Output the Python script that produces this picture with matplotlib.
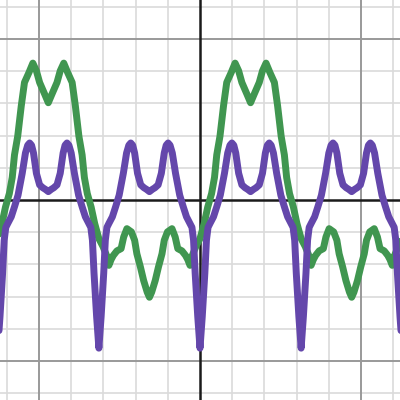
import numpy as np
import matplotlib
matplotlib.use("Agg")
import matplotlib.pyplot as plt

# green curve (grid unit = 1)
green_x = [-6.28, -6.15, -6.04, -5.92, -5.83, -5.76, -5.66, -5.55, -5.45, -5.31,
           -5.19, -5.08, -4.98, -4.82, -4.71, -4.60, -4.44, -4.34, -4.23, -4.11,
           -3.97, -3.87, -3.76, -3.66, -3.59, -3.50, -3.38, -3.27, -3.14, -3.01,
           -2.89, -2.83, -2.76, -2.69, -2.58, -2.45, -2.37, -2.27, -2.13, -2.03,
           -1.96, -1.85, -1.75, -1.64, -1.57, -1.50, -1.39, -1.29, -1.18, -1.11,
           -1.01, -0.87, -0.77, -0.69, -0.56, -0.45, -0.38, -0.31, -0.25, -0.13,
           0.00, 0.13, 0.24, 0.36, 0.45, 0.52, 0.62, 0.73, 0.83, 0.97,
           1.09, 1.20, 1.30, 1.46, 1.57, 1.68, 1.84, 1.94, 2.05, 2.17,
           2.31, 2.41, 2.52, 2.62, 2.69, 2.78, 2.90, 3.01, 3.14, 3.27,
           3.39, 3.45, 3.52, 3.59, 3.70, 3.83, 3.91, 4.01, 4.15, 4.25,
           4.32, 4.43, 4.53, 4.64, 4.71, 4.78, 4.89, 4.99, 5.10, 5.17,
           5.27, 5.41, 5.51, 5.59, 5.72, 5.83, 5.90, 5.97, 6.03, 6.15, 6.28]
green_y = [-1.20, -0.73, -0.22, 0.20, 0.70, 1.40, 1.98, 2.92, 3.65, 3.96,
           4.25, 4.01, 3.65, 3.28, 3.02, 3.28, 3.65, 4.01, 4.25, 3.96,
           3.65, 2.92, 1.98, 1.40, 0.70, 0.20, -0.22, -0.73, -1.20, -1.45,
           -1.75, -2.03, -1.85, -1.72, -1.58, -1.51, -1.15, -0.89, -0.99, -1.25,
           -1.67, -2.08, -2.50, -2.86, -3.02, -2.86, -2.50, -2.08, -1.67, -1.25,
           -0.99, -0.89, -1.15, -1.51, -1.58, -1.72, -1.85, -2.03, -1.75, -1.45,
           -1.20, -0.73, -0.22, 0.20, 0.70, 1.40, 1.98, 2.92, 3.65, 3.96,
           4.25, 4.01, 3.65, 3.28, 3.02, 3.28, 3.65, 4.01, 4.25, 3.96,
           3.65, 2.92, 1.98, 1.40, 0.70, 0.20, -0.22, -0.73, -1.20, -1.45,
           -1.75, -2.03, -1.85, -1.72, -1.58, -1.51, -1.15, -0.89, -0.99, -1.25,
           -1.67, -2.08, -2.50, -2.86, -3.02, -2.86, -2.50, -2.08, -1.67, -1.25,
           -0.99, -0.89, -1.15, -1.51, -1.58, -1.72, -1.85, -2.03, -1.75, -1.45, -1.20]

# purple curve
purple_x = [-6.28, -6.21, -6.13, -6.08, -6.03, -5.97, -5.86, -5.76, -5.65, -5.52,
            -5.42, -5.35, -5.29, -5.23, -5.17, -5.08, -4.98, -4.88, -4.80, -4.71,
            -4.62, -4.54, -4.44, -4.34, -4.25, -4.19, -4.13, -4.07, -4.00, -3.90,
            -3.77, -3.66, -3.56, -3.45, -3.39, -3.34, -3.29, -3.21, -3.14,
            -3.07, -2.99, -2.94, -2.89, -2.83, -2.72, -2.62, -2.51, -2.38, -2.28,
            -2.21, -2.15, -2.09, -2.03, -1.94, -1.84, -1.74, -1.66, -1.57, -1.48,
            -1.40, -1.30, -1.20, -1.11, -1.05, -0.99, -0.93, -0.86, -0.76, -0.63,
            -0.52, -0.42, -0.31, -0.25, -0.20, -0.15, -0.07, 0.00,
            0.07, 0.15, 0.20, 0.25, 0.31, 0.42, 0.52, 0.63, 0.76, 0.86,
            0.93, 0.99, 1.05, 1.11, 1.20, 1.30, 1.40, 1.48, 1.57, 1.66,
            1.74, 1.84, 1.94, 2.03, 2.09, 2.15, 2.21, 2.28, 2.38, 2.51,
            2.62, 2.72, 2.83, 2.89, 2.94, 2.99, 3.07, 3.14,
            3.21, 3.29, 3.34, 3.39, 3.45, 3.56, 3.66, 3.77, 3.90, 4.00,
            4.07, 4.13, 4.19, 4.25, 4.34, 4.44, 4.54, 4.62, 4.71, 4.80,
            4.88, 4.98, 5.08, 5.17, 5.23, 5.29, 5.35, 5.42, 5.52, 5.65,
            5.76, 5.86, 5.97, 6.03, 6.08, 6.13, 6.21, 6.28]
purple_y = [-4.60, -3.62, -2.28, -1.25, -0.85, -0.73, -0.52, -0.21, 0.15, 0.83,
            1.46, 1.70, 1.77, 1.70, 1.46, 0.83, 0.47, 0.38, 0.33, 0.26,
            0.33, 0.38, 0.47, 0.83, 1.46, 1.70, 1.77, 1.70, 1.46, 0.83,
            0.15, -0.21, -0.52, -0.73, -0.85, -1.25, -2.28, -3.62, -4.60,
            -3.62, -2.28, -1.25, -0.85, -0.73, -0.52, -0.21, 0.15, 0.83, 1.46,
            1.70, 1.77, 1.70, 1.46, 0.83, 0.47, 0.38, 0.33, 0.26, 0.33,
            0.38, 0.47, 0.83, 1.46, 1.70, 1.77, 1.70, 1.46, 0.83, 0.15,
            -0.21, -0.52, -0.73, -0.85, -1.25, -2.28, -3.62, -4.60,
            -3.62, -2.28, -1.25, -0.85, -0.73, -0.52, -0.21, 0.15, 0.83, 1.46,
            1.70, 1.77, 1.70, 1.46, 0.83, 0.47, 0.38, 0.33, 0.26, 0.33,
            0.38, 0.47, 0.83, 1.46, 1.70, 1.77, 1.70, 1.46, 0.83, 0.15,
            -0.21, -0.52, -0.73, -0.85, -1.25, -2.28, -3.62, -4.60,
            -3.62, -2.28, -1.25, -0.85, -0.73, -0.52, -0.21, 0.15, 0.83, 1.46,
            1.70, 1.77, 1.70, 1.46, 0.83, 0.47, 0.38, 0.33, 0.26, 0.33,
            0.38, 0.47, 0.83, 1.46, 1.70, 1.77, 1.70, 1.46, 0.83, 0.15,
            -0.21, -0.52, -0.73, -0.85, -1.25, -2.28, -3.62, -4.60]

minor_lines = [-6, -4, -3, -2, -1, 1, 2, 3, 4, 6]
major_lines = [-5, 5]

fig = plt.figure(figsize=(4, 4), dpi=100)
ax = fig.add_axes([0, 0, 1, 1])
ax.set_xlim(-6.21, 6.21)
ax.set_ylim(-6.21, 6.21)
ax.axis("off")

for v in minor_lines:
    ax.axvline(v, color="#dadada", lw=1.2, zorder=0)
    ax.axhline(v, color="#dadada", lw=1.2, zorder=0)
for v in major_lines:
    ax.axvline(v, color="#999999", lw=1.4, zorder=1)
    ax.axhline(v, color="#999999", lw=1.4, zorder=1)
ax.axvline(0, color="#1a1a1a", lw=1.8, zorder=2)
ax.axhline(0, color="#1a1a1a", lw=1.8, zorder=2)

ax.plot(green_x, green_y, color="#409650", lw=5, solid_joinstyle="round",
        solid_capstyle="round", zorder=3)
ax.plot(purple_x, purple_y, color="#6447ab", lw=5, solid_joinstyle="round",
        solid_capstyle="round", zorder=4)

fig.savefig("out.png", dpi=100)
